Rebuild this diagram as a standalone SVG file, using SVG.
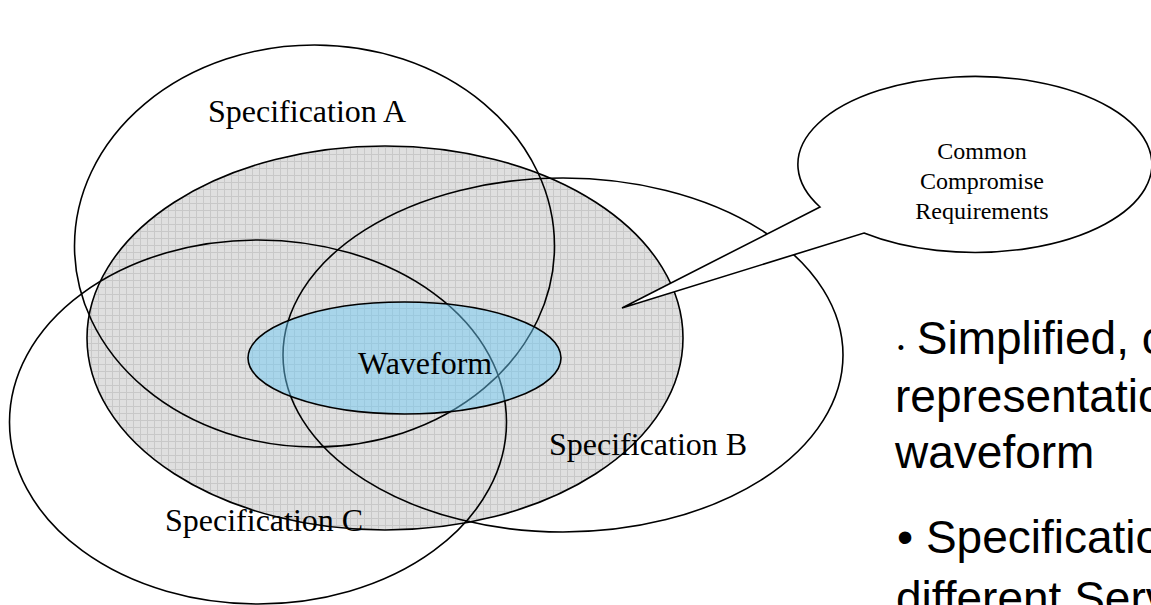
<svg xmlns="http://www.w3.org/2000/svg" width="1151" height="605" viewBox="0 0 1151 605">
  <defs>
    <pattern id="grid" patternUnits="userSpaceOnUse" width="7" height="7">
      <rect width="7" height="7" fill="#dfdfdf"/>
      <path d="M0 0.5H7M0.5 0V7" stroke="#c8c8c8" stroke-width="1" fill="none"/>
    </pattern>
    <style>
      .outline { fill: none; stroke: #000; stroke-width: 1.6; }
      .serif { font-family: "Liberation Serif", "Times New Roman", serif; font-size: 32px; fill: #000; }
      .small { font-size: 24px; }
      .sans { font-family: "Liberation Sans", Arial, sans-serif; font-size: 46px; fill: #000; }
    </style>
  </defs>
  <rect width="1151" height="605" fill="#fff"/>

  <g id="common-region">
    <ellipse cx="385" cy="338" rx="298" ry="192" fill="url(#grid)" stroke="#000" stroke-width="1.6"/>
  </g>
  <g id="spec-a">
    <ellipse class="outline" cx="314.5" cy="246" rx="240" ry="201"/>
    <text class="serif" x="208" y="122">Specification A</text>
  </g>
  <g id="spec-b">
    <ellipse class="outline" cx="563" cy="355" rx="280" ry="177"/>
    <text class="serif" x="549" y="455">Specification B</text>
  </g>
  <g id="spec-c">
    <ellipse class="outline" cx="258" cy="422" rx="248.5" ry="182"/>
    <text class="serif" x="165" y="531">Specification C</text>
  </g>
  <g id="waveform">
    <ellipse cx="404.5" cy="358" rx="156.5" ry="56" fill="#6ccaf6" fill-opacity="0.48" stroke="#000" stroke-width="1.6"/>
    <text class="serif" x="358" y="374">Waveform</text>
  </g>
  <g id="connectors"/>
  <g id="callout">
    <path d="M820,207 L622,308 L864,233 A177,88 0 1 0 820,207 Z" fill="#fff" stroke="#000" stroke-width="1.6" stroke-linejoin="miter"/>
    <text class="serif small" text-anchor="middle" x="982" y="159">Common</text>
    <text class="serif small" text-anchor="middle" x="982" y="189">Compromise</text>
    <text class="serif small" text-anchor="middle" x="982" y="219">Requirements</text>
  </g>
  <g id="bullets">
    <text class="sans" x="897.7" y="354"><tspan font-size="18">•</tspan> Simplified, common</text>
    <text class="sans" x="895" y="412">representation of</text>
    <text class="sans" x="895" y="468">waveform</text>
    <text class="sans" x="897" y="553">• Specifications from</text>
    <text class="sans" x="896" y="614">different Services</text>
  </g>
</svg>
